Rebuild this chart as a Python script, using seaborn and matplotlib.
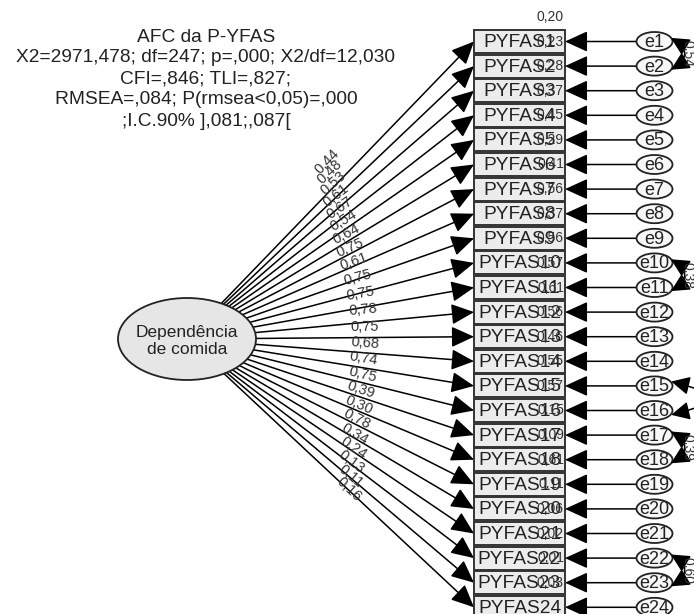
import numpy as np
import pandas as pd
import matplotlib.pyplot as plt
import seaborn as sns
from matplotlib.patches import Ellipse, Rectangle, FancyArrowPatch

# model content
items = ["PYFAS1", "PYFAS2", "PYFAS3", "PYFAS4", "PYFAS5", "PYFAS6", "PYFAS7", "PYFAS8",
         "PYFAS9", "PYFAS10", "PYFAS11", "PYFAS12", "PYFAS13", "PYFAS14", "PYFAS15", "PYFAS16",
         "PYFAS17", "PYFAS18", "PYFAS19", "PYFAS20", "PYFAS21", "PYFAS22", "PYFAS23", "PYFAS24"]
errors = ["e1", "e2", "e3", "e4", "e5", "e6", "e7", "e8", "e9", "e10", "e11", "e12",
          "e13", "e14", "e15", "e16", "e17", "e18", "e19", "e20", "e21", "e22", "e23", "e24"]
loadings = [0.44, 0.48, 0.53, 0.61, 0.67, 0.54, 0.64, 0.75, 0.61, 0.75, 0.75, 0.78,
            0.75, 0.68, 0.74, 0.75, 0.39, 0.30, 0.78, 0.34, 0.24, 0.13, 0.11, 0.16]
r2 = [0.20, 0.23, 0.28, 0.37, 0.45, 0.29, 0.41, 0.56, 0.37, 0.56, 0.57, 0.61,
      0.56, 0.46, 0.55, 0.57, 0.15, 0.09, 0.61, 0.11, 0.06, 0.02, 0.01, 0.03]
cov_from = ["e1", "e10", "e15", "e17", "e22"]
cov_to = ["e2", "e11", "e16", "e18", "e23"]
cov_values = [0.54, 0.38, None, 0.39, 0.60]
latent = "Dependência\nde comida"
title_lines = ["AFC da P-YFAS",
               "X2=2971,478; df=247; p=,000; X2/df=12,030",
               "CFI=,846; TLI=,827;",
               "RMSEA=,084; P(rmsea<0,05)=,000",
               ";I.C.90% ],081;,087["]

df = pd.DataFrame({"item": items, "error": errors, "loading": loadings, "r2": r2})


def fmt(v):
    return f"{v:.2f}".replace(".", ",")


sns.set_theme(style="white")
plt.rcParams["font.family"] = ["Liberation Sans", "DejaVu Sans"]

W, H = 694, 614
fig = plt.figure(figsize=(W / 100, H / 100), dpi=100)
ax = fig.add_axes([0, 0, 1, 1])
ax.set_xlim(0, W)
ax.set_ylim(H, 0)
ax.axis("off")

# layout
box_l, box_r, box_h = 474, 565, 23
y0, step = 41.5, 24.6
err_x, err_w, err_h = 654.5, 36, 19
lat_x, lat_y, lat_w, lat_h = 187, 339, 138, 82
df["y"] = y0 + step * df.index

head = "-|>,head_length=0.7,head_width=0.32"

# latent variable
ax.add_patch(Ellipse((lat_x, lat_y), lat_w, lat_h, facecolor="#e6e6e6",
                     edgecolor="#222222", lw=1.3, zorder=3))
ax.text(lat_x, lat_y + 2, latent, ha="center", va="center", fontsize=12.5,
        color="#222222", linespacing=1.15, zorder=4)

# title block
for k, line in enumerate(title_lines):
    ax.text(206, 37 + k * 21, line, ha="center", va="center", fontsize=13.8, color="#222222")

a, b = lat_w / 2, lat_h / 2
for _, row in df.iterrows():
    yc = row["y"]
    dx, dy = box_l - lat_x, yc - lat_y
    t = 1 / np.sqrt((dx / a) ** 2 + (dy / b) ** 2)
    sx, sy = lat_x + t * dx, lat_y + t * dy
    ax.annotate("", xy=(box_l, yc), xytext=(sx, sy),
                arrowprops=dict(arrowstyle=head, mutation_scale=20, lw=1.1,
                                color="black", shrinkA=0, shrinkB=0), zorder=2)
    # loading label along the path
    slope = (yc - sy) / (box_l - sx)
    f = 0.5 - 0.08 * max(0, -slope)
    lx = sx + f * (box_l - sx)
    ly = sy + f * (yc - sy) - (11 - 11 * slope + 10 * max(0, -slope))
    ang = np.degrees(np.arctan2(-(yc - sy), box_l - sx))
    ax.text(lx, ly, fmt(row["loading"]), ha="center", va="center", fontsize=10.5,
            color="#333333", rotation=ang, rotation_mode="anchor", zorder=5)

    # observed item box
    ax.add_patch(Rectangle((box_l, yc - box_h / 2), box_r - box_l, box_h,
                           facecolor="#ececec", edgecolor="#333333", lw=1.4, zorder=3))
    ax.text((box_l + box_r) / 2, yc + 1, row["item"], ha="center", va="center",
            fontsize=13.8, color="#222222", zorder=4)
    ax.text(box_r - 1, yc - step, fmt(row["r2"]), ha="right", va="center",
            fontsize=10, color="#333333", zorder=6)

    # error term
    ax.add_patch(Ellipse((err_x, yc), err_w, err_h, facecolor="#f7f7f7",
                         edgecolor="#222222", lw=1.3, zorder=3))
    ax.text(err_x, yc + 1, row["error"], ha="center", va="center", fontsize=13,
            color="#222222", zorder=4)
    ax.annotate("", xy=(box_r, yc), xytext=(err_x - err_w / 2, yc),
                arrowprops=dict(arrowstyle=head, mutation_scale=20, lw=1.1,
                                color="black", shrinkA=0, shrinkB=0), zorder=2)

# correlated errors
ypos = dict(zip(df["error"], df["y"]))
for e_a, e_b, v in zip(cov_from, cov_to, cov_values):
    ya, yb = ypos[e_a], ypos[e_b]
    rad = -0.9 if v is not None else -2.2
    arc = FancyArrowPatch((err_x + 14, ya - 5), (err_x + 14, yb + 5),
                          connectionstyle=f"arc3,rad={rad}",
                          arrowstyle="<|-|>,head_length=0.7,head_width=0.35",
                          mutation_scale=16, lw=1.1, color="black", zorder=5)
    ax.add_patch(arc)
    if v is not None:
        ax.text(688, (ya + yb) / 2, fmt(v), ha="center", va="center", fontsize=10,
                color="#333333", rotation=-90, zorder=6)

fig.savefig("out.png", dpi=100)
